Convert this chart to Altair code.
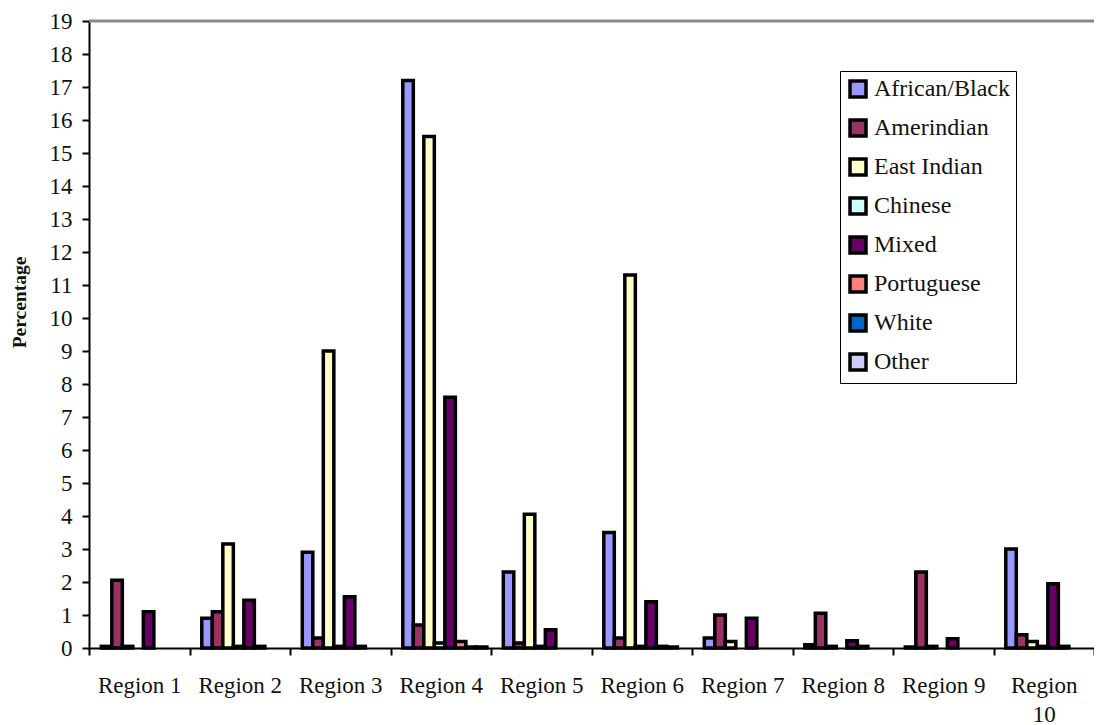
import altair as alt
import pandas as pd

regions = ["Region 1", "Region 2", "Region 3", "Region 4", "Region 5",
           "Region 6", "Region 7", "Region 8", "Region 9", "Region 10"]
groups = ["African/Black", "Amerindian", "East Indian", "Chinese",
          "Mixed", "Portuguese", "White", "Other"]
colors = ["#9999FF", "#993366", "#FFFFCC", "#CCFFFF",
          "#660066", "#FF8080", "#0066CC", "#CCCCFF"]
y_ticks = [0, 1, 2, 3, 4, 5, 6, 7, 8, 9, 10, 11, 12, 13, 14, 15, 16, 17, 18, 19]

african = [0.05, 0.9, 2.9, 17.2, 2.3, 3.5, 0.3, 0.1, 0.03, 3.0]
amerindian = [2.05, 1.1, 0.3, 0.7, 0.15, 0.3, 1.0, 1.05, 2.3, 0.4]
east_indian = [0.05, 3.15, 9.0, 15.5, 4.05, 11.3, 0.2, 0.05, 0.05, 0.2]
chinese = [0, 0.05, 0.05, 0.15, 0.05, 0.05, 0, 0, 0, 0.05]
mixed = [1.1, 1.45, 1.55, 7.6, 0.55, 1.4, 0.9, 0.22, 0.28, 1.95]
portuguese = [0, 0.05, 0.05, 0.2, 0, 0.05, 0, 0.05, 0, 0.05]
white = [0, 0, 0, 0.03, 0, 0.03, 0, 0, 0, 0]
other = [0, 0, 0, 0.03, 0, 0, 0, 0, 0, 0]

series = [african, amerindian, east_indian, chinese, mixed, portuguese, white, other]
rows = []
for g, vals in zip(groups, series):
    for r, v in zip(regions, vals):
        if v > 0:
            rows.append({"region": r, "group": g, "value": v})
df = pd.DataFrame(rows)

FONT = "Liberation Serif"

y_axis = alt.Axis(values=y_ticks, tickCount=20, labelOverlap=False, title="Percentage",
                  titleFont=FONT, titleFontSize=19.5, titleFontWeight="bold",
                  titleColor="#111", titleY=281, titlePadding=20,
                  grid=False, labelFont=FONT, labelFontSize=23, labelColor="#111",
                  domainColor="black", domainWidth=2,
                  tickColor="black", tickWidth=2, tickSize=7, labelPadding=10)
y_scale = alt.Scale(domain=[0, 19], nice=False)

bars = alt.Chart(df).mark_bar(stroke="black", strokeWidth=3.5).encode(
    x=alt.X("region:N", sort=regions,
            scale=alt.Scale(domain=regions, paddingInner=0, paddingOuter=0),
            axis=alt.Axis(title=None, labelAngle=0, tickBand="extent",
                          labelFont=FONT, labelFontSize=23, labelColor="#111",
                          domainColor="black", domainWidth=2,
                          tickColor="black", tickWidth=2, tickSize=7,
                          labelPadding=19, labelLineHeight=29, labelOverlap=False,
                          labelExpr="datum.label == 'Region 10' ? ['Region', '10'] : datum.label")),
    xOffset=alt.XOffset("group:N", sort=groups,
                        scale=alt.Scale(domain=groups, paddingOuter=0.78, paddingInner=0,
                                        align=0.75)),
    y=alt.Y("value:Q", scale=y_scale, axis=y_axis),
    color=alt.Color("group:N", sort=groups,
                    scale=alt.Scale(domain=groups, range=colors),
                    legend=alt.Legend(title=None, orient="none", legendX=751, legendY=50,
                                      symbolStrokeColor="black", symbolStrokeWidth=3.5,
                                      symbolType="square", symbolSize=256)),
)

top_line = alt.Chart(pd.DataFrame({"v": [19]})).mark_rule(
    color="#888888", strokeWidth=3
).encode(y=alt.Y("v:Q", scale=y_scale, axis=y_axis), x=alt.value(0), x2=alt.value(1005))

chart = alt.layer(bars, top_line).properties(
    width=1005, height=627, autosize="none",
    padding={"left": 81, "top": 13, "right": 0, "bottom": 78},
    background="white",
).configure_view(strokeWidth=0).configure_legend(
    fillColor="white", strokeColor="black", padding=6,
    symbolType="square", symbolSize=256,
    symbolStrokeColor="black", symbolStrokeWidth=3.5, symbolOpacity=1,
    labelFont=FONT, labelFontSize=24, labelColor="#111",
    labelOffset=4, rowPadding=9,
)

chart.save("out.html", embed_options={"renderer": "svg", "actions": False})
